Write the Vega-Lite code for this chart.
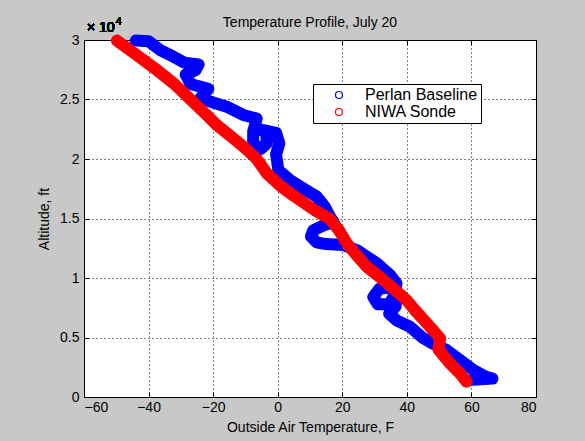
{
  "$schema": "https://vega.github.io/schema/vega-lite/v6.json",
  "width": 452,
  "height": 357,
  "autosize": {"type": "none"},
  "padding": {"left": 84, "top": 40, "right": 49, "bottom": 44},
  "background": "#c8c8c8",
  "config": {
    "font": "Liberation Sans",
    "view": {"fill": "white", "stroke": "black", "strokeWidth": 1},
    "axis": {
      "labelFont": "Liberation Sans",
      "labelFontSize": 14,
      "labelColor": "black",
      "titleFont": "Liberation Sans",
      "titleFontSize": 14,
      "titleFontWeight": "normal",
      "titleColor": "black",
      "tickColor": "black",
      "tickWidth": 1,
      "gridColor": "black",
      "gridDash": [1, 3],
      "gridOpacity": 1,
      "gridWidth": 1,
      "domain": false,
      "tickSize": -5
    },
    "legend": {
      "orient": "none",
      "legendX": 229,
      "legendY": 44,
      "title": null,
      "symbolType": "circle",
      "symbolSize": 49,
      "symbolStrokeWidth": 1.2,
      "symbolFillColor": "transparent",
      "labelFont": "Liberation Sans",
      "labelFontSize": 16,
      "labelColor": "black",
      "padding": 3,
      "symbolOffset": 15,
      "labelOffset": 18,
      "rowPadding": 1,
      "strokeColor": "black",
      "fillColor": "white"
    }
  },
  "title": {
    "text": "Temperature Profile, July 20",
    "font": "Liberation Sans",
    "fontSize": 14,
    "fontWeight": "normal",
    "color": "black",
    "anchor": "middle",
    "offset": -13
  },
  "data": {
    "values": [
      {"series": "Perlan Baseline", "seq": 1, "temp": -44, "alt": 29950},
      {"series": "Perlan Baseline", "seq": 2, "temp": -40, "alt": 29900},
      {"series": "Perlan Baseline", "seq": 3, "temp": -36.4, "alt": 29150},
      {"series": "Perlan Baseline", "seq": 4, "temp": -32.3, "alt": 28600},
      {"series": "Perlan Baseline", "seq": 5, "temp": -29, "alt": 28100},
      {"series": "Perlan Baseline", "seq": 6, "temp": -24.5, "alt": 27950},
      {"series": "Perlan Baseline", "seq": 7, "temp": -25.5, "alt": 27450},
      {"series": "Perlan Baseline", "seq": 8, "temp": -28.5, "alt": 27100},
      {"series": "Perlan Baseline", "seq": 9, "temp": -27, "alt": 26300},
      {"series": "Perlan Baseline", "seq": 10, "temp": -21.5, "alt": 25900},
      {"series": "Perlan Baseline", "seq": 11, "temp": -24, "alt": 25100},
      {"series": "Perlan Baseline", "seq": 12, "temp": -20, "alt": 24750},
      {"series": "Perlan Baseline", "seq": 13, "temp": -15.8, "alt": 24400},
      {"series": "Perlan Baseline", "seq": 14, "temp": -10.7, "alt": 23700},
      {"series": "Perlan Baseline", "seq": 15, "temp": -6.5, "alt": 23400},
      {"series": "Perlan Baseline", "seq": 16, "temp": -7.6, "alt": 22300},
      {"series": "Perlan Baseline", "seq": 17, "temp": -7.6, "alt": 21300},
      {"series": "Perlan Baseline", "seq": 18, "temp": -5.2, "alt": 20850},
      {"series": "Perlan Baseline", "seq": 19, "temp": -3.4, "alt": 21300},
      {"series": "Perlan Baseline", "seq": 20, "temp": -3.5, "alt": 22200},
      {"series": "Perlan Baseline", "seq": 21, "temp": -5.5, "alt": 22500},
      {"series": "Perlan Baseline", "seq": 22, "temp": -0.5, "alt": 22200},
      {"series": "Perlan Baseline", "seq": 23, "temp": 0.5, "alt": 21300},
      {"series": "Perlan Baseline", "seq": 24, "temp": -0.5, "alt": 20400},
      {"series": "Perlan Baseline", "seq": 25, "temp": 0.2, "alt": 19070},
      {"series": "Perlan Baseline", "seq": 26, "temp": 3.8, "alt": 18230},
      {"series": "Perlan Baseline", "seq": 27, "temp": 7.9, "alt": 17530},
      {"series": "Perlan Baseline", "seq": 28, "temp": 12.1, "alt": 16830},
      {"series": "Perlan Baseline", "seq": 29, "temp": 14.6, "alt": 15990},
      {"series": "Perlan Baseline", "seq": 30, "temp": 16.2, "alt": 15150},
      {"series": "Perlan Baseline", "seq": 31, "temp": 17.3, "alt": 14700},
      {"series": "Perlan Baseline", "seq": 32, "temp": 14, "alt": 14400},
      {"series": "Perlan Baseline", "seq": 33, "temp": 11, "alt": 14000},
      {"series": "Perlan Baseline", "seq": 34, "temp": 10.3, "alt": 13500},
      {"series": "Perlan Baseline", "seq": 35, "temp": 12, "alt": 13000},
      {"series": "Perlan Baseline", "seq": 36, "temp": 15, "alt": 12850},
      {"series": "Perlan Baseline", "seq": 37, "temp": 20.3, "alt": 12770},
      {"series": "Perlan Baseline", "seq": 38, "temp": 24.5, "alt": 12350},
      {"series": "Perlan Baseline", "seq": 39, "temp": 30.7, "alt": 11230},
      {"series": "Perlan Baseline", "seq": 40, "temp": 34.8, "alt": 10250},
      {"series": "Perlan Baseline", "seq": 41, "temp": 36.8, "alt": 9550},
      {"series": "Perlan Baseline", "seq": 42, "temp": 36.3, "alt": 8600},
      {"series": "Perlan Baseline", "seq": 43, "temp": 34.5, "alt": 7800},
      {"series": "Perlan Baseline", "seq": 44, "temp": 31, "alt": 7800},
      {"series": "Perlan Baseline", "seq": 45, "temp": 29.6, "alt": 8400},
      {"series": "Perlan Baseline", "seq": 46, "temp": 31.5, "alt": 9100},
      {"series": "Perlan Baseline", "seq": 47, "temp": 34.5, "alt": 9200},
      {"series": "Perlan Baseline", "seq": 48, "temp": 37, "alt": 8700},
      {"series": "Perlan Baseline", "seq": 49, "temp": 36.5, "alt": 7600},
      {"series": "Perlan Baseline", "seq": 50, "temp": 34.5, "alt": 7000},
      {"series": "Perlan Baseline", "seq": 51, "temp": 37, "alt": 6400},
      {"series": "Perlan Baseline", "seq": 52, "temp": 41, "alt": 5910},
      {"series": "Perlan Baseline", "seq": 53, "temp": 44.8, "alt": 5000},
      {"series": "Perlan Baseline", "seq": 54, "temp": 48, "alt": 4500},
      {"series": "Perlan Baseline", "seq": 55, "temp": 52.3, "alt": 3950},
      {"series": "Perlan Baseline", "seq": 56, "temp": 56.5, "alt": 3110},
      {"series": "Perlan Baseline", "seq": 57, "temp": 60.6, "alt": 2270},
      {"series": "Perlan Baseline", "seq": 58, "temp": 64.5, "alt": 1700},
      {"series": "Perlan Baseline", "seq": 59, "temp": 66.5, "alt": 1550},
      {"series": "Perlan Baseline", "seq": 60, "temp": 60.5, "alt": 1450},
      {"series": "NIWA Sonde", "seq": 1, "temp": -49.8, "alt": 29950},
      {"series": "NIWA Sonde", "seq": 2, "temp": -44, "alt": 28800},
      {"series": "NIWA Sonde", "seq": 3, "temp": -38, "alt": 27600},
      {"series": "NIWA Sonde", "seq": 4, "temp": -32, "alt": 26300},
      {"series": "NIWA Sonde", "seq": 5, "temp": -27, "alt": 25000},
      {"series": "NIWA Sonde", "seq": 6, "temp": -22, "alt": 23700},
      {"series": "NIWA Sonde", "seq": 7, "temp": -18.9, "alt": 22860},
      {"series": "NIWA Sonde", "seq": 8, "temp": -14, "alt": 21800},
      {"series": "NIWA Sonde", "seq": 9, "temp": -10, "alt": 20900},
      {"series": "NIWA Sonde", "seq": 10, "temp": -6.5, "alt": 20000},
      {"series": "NIWA Sonde", "seq": 11, "temp": -3.4, "alt": 18800},
      {"series": "NIWA Sonde", "seq": 12, "temp": 1, "alt": 17700},
      {"series": "NIWA Sonde", "seq": 13, "temp": 5, "alt": 16900},
      {"series": "NIWA Sonde", "seq": 14, "temp": 8.5, "alt": 16250},
      {"series": "NIWA Sonde", "seq": 15, "temp": 12, "alt": 15600},
      {"series": "NIWA Sonde", "seq": 16, "temp": 16, "alt": 15000},
      {"series": "NIWA Sonde", "seq": 17, "temp": 19, "alt": 14000},
      {"series": "NIWA Sonde", "seq": 18, "temp": 21.4, "alt": 12920},
      {"series": "NIWA Sonde", "seq": 19, "temp": 24.4, "alt": 11930},
      {"series": "NIWA Sonde", "seq": 20, "temp": 27.6, "alt": 10950},
      {"series": "NIWA Sonde", "seq": 21, "temp": 32, "alt": 10000},
      {"series": "NIWA Sonde", "seq": 22, "temp": 35.8, "alt": 9130},
      {"series": "NIWA Sonde", "seq": 23, "temp": 39.9, "alt": 8150},
      {"series": "NIWA Sonde", "seq": 24, "temp": 42.5, "alt": 7300},
      {"series": "NIWA Sonde", "seq": 25, "temp": 44.5, "alt": 6700},
      {"series": "NIWA Sonde", "seq": 26, "temp": 47.5, "alt": 5800},
      {"series": "NIWA Sonde", "seq": 27, "temp": 50.3, "alt": 4930},
      {"series": "NIWA Sonde", "seq": 28, "temp": 49.8, "alt": 4000},
      {"series": "NIWA Sonde", "seq": 29, "temp": 53.3, "alt": 2830},
      {"series": "NIWA Sonde", "seq": 30, "temp": 56.4, "alt": 1990},
      {"series": "NIWA Sonde", "seq": 31, "temp": 58.5, "alt": 1290}
    ]
  },
  "resolve": {"axis": {"x": "independent", "y": "independent"}},
  "layer": [
    {
      "transform": [{"filter": "datum.series === 'Perlan Baseline'"}],
      "mark": {"type": "line", "strokeWidth": 12, "strokeCap": "round", "strokeJoin": "round"},
      "encoding": {
        "x": {
          "field": "temp", "type": "quantitative",
          "scale": {"domain": [-60, 80], "nice": false, "zero": false},
          "axis": {"orient": "bottom", "values": [-60, -40, -20, 0, 20, 40, 60, 80], "title": "Outside Air Temperature, F", "grid": true, "labelPadding": 8, "titlePadding": 6}
        },
        "y": {
          "field": "alt", "type": "quantitative",
          "scale": {"domain": [0, 30000], "nice": false},
          "axis": {"orient": "left", "values": [0, 5000, 10000, 15000, 20000, 25000, 30000], "labelExpr": "datum.value / 10000", "title": "Altitude, ft", "grid": true, "labelPadding": 10, "titlePadding": 8}
        },
        "color": {
          "field": "series", "type": "nominal",
          "scale": {"domain": ["Perlan Baseline", "NIWA Sonde"], "range": ["#0000ff", "#ff0000"]},
          "legend": {"title": null, "encode": {"legend": {"update": {"width": {"value": 176}}}}}
        },
        "order": {"field": "seq", "type": "quantitative"}
      }
    },
    {
      "transform": [{"filter": "datum.series === 'NIWA Sonde'"}],
      "mark": {"type": "line", "strokeWidth": 12, "strokeCap": "round", "strokeJoin": "round"},
      "encoding": {
        "x": {
          "field": "temp", "type": "quantitative",
          "axis": {"orient": "top", "values": [-40, -20, 0, 20, 40, 60], "labels": false, "title": null, "grid": false}
        },
        "y": {
          "field": "alt", "type": "quantitative",
          "axis": {"orient": "right", "values": [5000, 10000, 15000, 20000, 25000], "labels": false, "title": null, "grid": false}
        },
        "color": {"field": "series", "type": "nominal"},
        "order": {"field": "seq", "type": "quantitative"}
      }
    },
    {
      "mark": {"type": "text", "align": "left", "baseline": "alphabetic", "dx": 3, "dy": -8, "fontSize": 14, "font": "Liberation Sans", "color": "black"},
      "encoding": {
        "x": {"datum": -60, "type": "quantitative", "axis": null},
        "y": {"datum": 30000, "type": "quantitative", "axis": null},
        "text": {"value": "× 10"}
      }
    },
    {
      "mark": {"type": "text", "align": "left", "baseline": "alphabetic", "dx": 32, "dy": -15, "fontSize": 10, "font": "Liberation Sans", "color": "black"},
      "encoding": {
        "x": {"datum": -60, "type": "quantitative", "axis": null},
        "y": {"datum": 30000, "type": "quantitative", "axis": null},
        "text": {"value": "4"}
      }
    }
  ]
}
